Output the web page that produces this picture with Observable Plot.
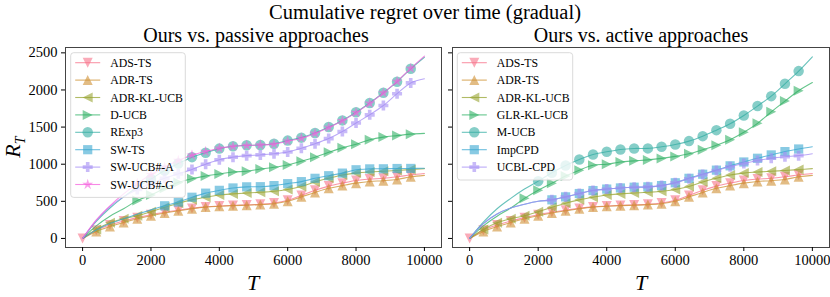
<!DOCTYPE html>
<html><head><meta charset="utf-8">
<script src="https://cdn.jsdelivr.net/npm/d3@7"></script>
<script src="https://cdn.jsdelivr.net/npm/@observablehq/plot@0.6"></script>
<style>
body{margin:0;background:#fff;}
#wrap{position:relative;width:830px;height:297px;overflow:hidden;background:#fff;font-family:"Liberation Serif",serif;color:#000;}
.t{position:absolute;white-space:nowrap;transform:translate(-50%,-50%);line-height:1;}
.panel{position:absolute;top:44px;}
</style></head>
<body><div id="wrap">
<div class="t" style="left:425px;top:12px;font-size:20.5px;">Cumulative regret over time (gradual)</div>
<div class="t" style="left:256px;top:35px;font-size:20px;">Ours vs. passive approaches</div>
<div class="t" style="left:641px;top:35px;font-size:20px;">Ours vs. active approaches</div>
<div class="t" style="left:253px;top:283px;font-size:22px;font-style:italic;">T</div>
<div class="t" style="left:641px;top:283px;font-size:22px;font-style:italic;">T</div>
<div class="t" style="left:15px;top:147px;font-size:22px;font-style:italic;transform:translate(-50%,-50%) rotate(-90deg);">R<sub style="font-size:14px;">T</sub></div>
<div id="left" class="panel" style="left:0px;"></div>
<div id="right" class="panel" style="left:445px;"></div>
</div>
<script>
// ---- data ----
const T = [0,400,800,1200,1600,2000,2400,2800,3200,3600,4000,4400,4800,5200,5600,6000,6400,6800,7200,7600,8000,8400,8800,9200,9600,10000];
const xTicks = [0,2000,4000,6000,8000,10000];
const yTicks = [0,500,1000,1500,2000,2500];

const passiveNames = ["ADS-TS","ADR-TS","ADR-KL-UCB","D-UCB","RExp3","SW-TS","SW-UCB#-A","SW-UCB#-G"];
const activeNames  = ["ADS-TS","ADR-TS","ADR-KL-UCB","GLR-KL-UCB","M-UCB","ImpCPD","UCBL-CPD"];
const palette = ["#f77189","#ce9032","#97a431","#32b166","#36ada4","#39a7d0","#a48cf4","#f561dd"];

const adsTS    = [0,110,180,235,280,320,352,380,405,425,437,445,452,460,478,515,580,650,705,745,780,800,810,830,855,875];
const adrTS    = [0,95,160,215,265,305,342,372,400,422,433,442,448,456,468,500,560,620,675,712,745,768,778,795,830,850];
const adrKLUCB = [0,120,210,265,305,360,420,475,520,555,585,600,612,622,635,660,700,760,810,855,880,895,905,915,928,940];
const dUCB     = [0,170,300,400,510,585,675,755,805,840,868,895,905,935,958,990,1040,1095,1160,1220,1270,1330,1365,1385,1405,1415];
const rexp3    = [0,230,410,560,690,800,915,1010,1095,1155,1210,1242,1255,1258,1275,1318,1358,1420,1500,1590,1700,1825,1962,2110,2285,2440];
const swTS     = [0,115,200,265,325,385,440,490,555,610,648,680,695,697,712,738,765,810,845,880,925,937,938,942,943,945];
const swUCBA   = [0,240,430,560,660,740,810,870,930,1000,1060,1095,1115,1125,1140,1165,1215,1275,1345,1440,1555,1665,1790,1950,2095,2150];
const swUCBG   = [0,250,440,600,740,860,960,1050,1120,1170,1215,1240,1252,1258,1270,1310,1350,1415,1495,1585,1695,1820,1960,2115,2290,2455];

const glrKLUCB = [0,170,300,410,540,650,745,840,920,985,1000,1030,1045,1058,1078,1105,1140,1195,1255,1330,1430,1550,1705,1850,1990,2100];
const mUCB     = [0,220,400,540,665,772,885,983,1064,1131,1167,1199,1212,1213,1235,1266,1311,1378,1459,1545,1657,1783,1917,2083,2254,2447];
const impCPD   = [0,200,330,410,460,500,520,560,605,645,665,680,690,695,712,750,810,865,920,978,1030,1080,1125,1170,1205,1235];
const ucblCPD  = [0,200,330,410,460,500,520,560,605,645,665,680,690,695,712,750,805,860,915,965,1010,1050,1080,1100,1115,1140];

// ---- marker shapes ----
function sym(f){ return {draw(c, size){ const h = Math.sqrt(size/Math.PI); f(c,h); }}; }
const SYM = {
  down:  sym((c,h)=>{c.moveTo(0,h);c.lineTo(-h,-h);c.lineTo(h,-h);c.closePath();}),
  up:    sym((c,h)=>{c.moveTo(0,-h);c.lineTo(-h,h);c.lineTo(h,h);c.closePath();}),
  left:  sym((c,h)=>{c.moveTo(-h,0);c.lineTo(h,-h);c.lineTo(h,h);c.closePath();}),
  right: sym((c,h)=>{c.moveTo(h,0);c.lineTo(-h,-h);c.lineTo(-h,h);c.closePath();}),
  circle:sym((c,h)=>{const r=h*1.05;c.moveTo(r,0);c.arc(0,0,r,0,2*Math.PI);c.closePath();}),
  square:sym((c,h)=>{const s=h*0.92;c.rect(-s,-s,2*s,2*s);}),
  plus:  sym((c,h)=>{const w=h*0.36;c.moveTo(-w,-h);c.lineTo(w,-h);c.lineTo(w,-w);c.lineTo(h,-w);c.lineTo(h,w);c.lineTo(w,w);c.lineTo(w,h);c.lineTo(-w,h);c.lineTo(-w,w);c.lineTo(-h,w);c.lineTo(-h,-w);c.lineTo(-w,-w);c.closePath();}),
  star:  sym((c,h)=>{for(let i=0;i<10;i++){const r=i%2?h*0.42:h*1.15;const a=-Math.PI/2+i*Math.PI/5;const x=r*Math.cos(a),y=r*Math.sin(a); i?c.lineTo(x,y):c.moveTo(x,y);}c.closePath();})
};

const passiveSeries = [
  {name:passiveNames[0], v:adsTS,    color:palette[0], sym:SYM.down,  start:0},
  {name:passiveNames[1], v:adrTS,    color:palette[1], sym:SYM.up,    start:1},
  {name:passiveNames[2], v:adrKLUCB, color:palette[2], sym:SYM.left,  start:1},
  {name:passiveNames[3], v:dUCB,     color:palette[3], sym:SYM.right, start:4},
  {name:passiveNames[4], v:rexp3,    color:palette[4], sym:SYM.circle,start:5},
  {name:passiveNames[5], v:swTS,     color:palette[5], sym:SYM.square,start:6},
  {name:passiveNames[6], v:swUCBA,   color:palette[6], sym:SYM.plus,  start:4},
  {name:passiveNames[7], v:swUCBG,   color:palette[7], sym:SYM.star,  start:4}
];
const activeSeries = [
  {name:activeNames[0], v:adsTS,    color:palette[0], sym:SYM.down,  start:0},
  {name:activeNames[1], v:adrTS,    color:palette[1], sym:SYM.up,    start:1},
  {name:activeNames[2], v:adrKLUCB, color:palette[2], sym:SYM.left,  start:1},
  {name:activeNames[3], v:glrKLUCB, color:palette[3], sym:SYM.right, start:4},
  {name:activeNames[4], v:mUCB,     color:palette[4], sym:SYM.circle,start:5},
  {name:activeNames[5], v:impCPD,   color:palette[5], sym:SYM.square,start:6},
  {name:activeNames[6], v:ucblCPD,  color:palette[6], sym:SYM.plus,  start:6}
];

const R = 5;
function seriesMarks(series){
  const marks = [];
  for (const s of series){
    const pts = T.map((t,i)=>({t, v:s.v[i], i}));
    marks.push(Plot.line(pts, {x:"t", y:"v", stroke:s.color, strokeOpacity:0.75, strokeWidth:1.1, curve:"catmull-rom"}));
    marks.push(Plot.dot(pts.filter(p=>p.i>=s.start && p.i<T.length-1), {x:"t", y:"v", r:R, symbol:s.sym, fill:s.color, fillOpacity:0.6, stroke:"none"}));
  }
  return marks;
}

function panel(series, opts){
  const svg = Plot.plot({
    width: opts.width, height: 253,
    marginLeft: opts.ml, marginRight: opts.mr, marginTop: 3, marginBottom: 50,
    style:{fontFamily:"Liberation Serif, serif", fontSize:"14.5px", color:"#000", background:"transparent", overflow:"visible"},
    x:{domain:[-500,10500]},
    y:{domain:[-122,2572]},
    marks:[
      ...seriesMarks(series),
      Plot.frame({stroke:"#444", strokeWidth:1}),
      Plot.axisX({ticks:xTicks, tickSize:4, tickPadding:3, tickFormat:d=>String(d), label:null}),
      Plot.axisY({ticks:yTicks, tickSize:4, tickPadding:4, tickFormat: opts.ylabels ? (d=>String(d)) : (()=>""), label:null})
    ]
  });
  // legend (upper-left box, drawn over the lines)
  const g = d3.select(svg).append("g").attr("text-anchor","start");
  const lx = opts.lx, ly = 8.7, lw = opts.lw, step = 17.4;
  g.append("rect").attr("x",lx).attr("y",ly).attr("width",lw).attr("height",series.length*step+5.5)
    .attr("rx",3).attr("fill","white").attr("fill-opacity",0.8).attr("stroke","#d0d0d0").attr("stroke-width",0.8);
  series.forEach((s,i)=>{
    const cy = ly + 10 + i*step;
    g.append("line").attr("x1",lx+4.5).attr("x2",lx+29.5).attr("y1",cy).attr("y2",cy)
      .attr("stroke",s.color).attr("stroke-opacity",0.75).attr("stroke-width",1.1);
    g.append("path").attr("transform",`translate(${lx+17},${cy})`)
      .attr("d", d3.symbol().type(s.sym).size(Math.PI*R*R)())
      .attr("fill",s.color).attr("fill-opacity",0.6);
    g.append("text").attr("x",lx+39.5).attr("y",cy).attr("dy","0.35em").attr("text-anchor","start")
      .attr("font-size","11.8px").attr("fill","#000").text(s.name);
  });
  return svg;
}

document.getElementById("left").appendChild(panel(passiveSeries,{width:445, ml:65, mr:4, ylabels:true, lx:70.7, lw:114.6}));
document.getElementById("right").appendChild(panel(activeSeries,{width:385, ml:7, mr:1, ylabels:false, lx:12.3, lw:115.4}));
</script>
</body></html>
